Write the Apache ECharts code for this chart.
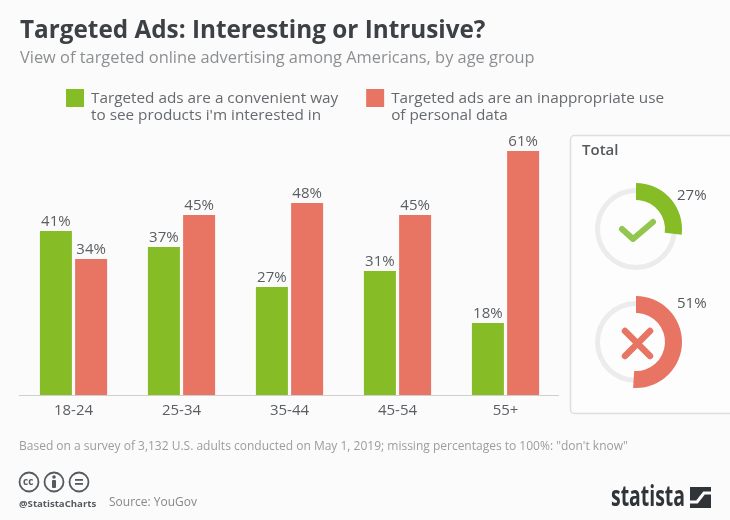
<!DOCTYPE html>
<html>
<head>
<meta charset="utf-8">
<style>
  html, body { margin: 0; padding: 0; background: #fbfbfb; }
  #chart { width: 730px; height: 520px; }
</style>
<script src="https://cdn.jsdelivr.net/npm/echarts@6/dist/echarts.min.js"></script>
</head>
<body>
<div id="chart"></div>
<script>
const ageGroups = ['18-24', '25-34', '35-44', '45-54', '55+'];
const convenient = [41, 37, 27, 31, 18];
const inappropriate = [34, 45, 48, 45, 61];
const totalConvenient = 27;
const totalInappropriate = 51;

const convenientName = "Targeted ads are a convenient way\nto see products i'm interested in";
const inappropriateName = 'Targeted ads are an inappropriate use\nof personal data';

const GREEN = '#86bc25';
const RED = '#e87563';
const FONT = '"Open Sans", sans-serif';

// gray track plus the coloured arc on top
function donut(value, color, cy) {
  return [
    {
      type: 'pie',
      silent: true,
      center: [636, cy],
      radius: [36, 41],
      label: { show: false },
      itemStyle: { color: '#ececec' },
      data: [100]
    },
    {
      type: 'pie',
      silent: true,
      center: [636, cy],
      radius: [29, 46],
      startAngle: 90,
      clockwise: true,
      label: { show: false },
      labelLine: { show: false },
      data: [
        { value: value, itemStyle: { color: color } },
        { value: 100 - value, itemStyle: { color: 'transparent' } }
      ]
    }
  ];
}

function text(x, y, str, size, color, weight, family) {
  return {
    type: 'text',
    x: x,
    y: y,
    silent: true,
    style: {
      text: str,
      fontSize: size,
      fontWeight: weight || 'normal',
      fontFamily: family || FONT,
      fill: color,
      textVerticalAlign: 'middle'
    }
  };
}

function ccCircle(cx) {
  return {
    type: 'circle',
    silent: true,
    shape: { cx: cx, cy: 482, r: 9.5 },
    style: { fill: 'none', stroke: '#555a5e', lineWidth: 1.8 }
  };
}

let chart = echarts.init(document.getElementById('chart'));

chart.setOption({
  backgroundColor: '#fbfbfb',
  animation: false,
  textStyle: { fontFamily: FONT },
  title: {
    text: 'Targeted Ads: Interesting or Intrusive?',
    subtext: 'View of targeted online advertising among Americans, by age group',
    left: 20,
    top: 19,
    itemGap: 7,
    padding: 0,
    textStyle: { fontSize: 24.3, fontWeight: 'bold', color: '#3d4145', fontFamily: FONT },
    subtextStyle: { fontSize: 16.4, color: '#8c8f92', fontFamily: FONT }
  },
  legend: {
    left: 66,
    top: 89,
    padding: 0,
    itemGap: 28,
    itemWidth: 18,
    itemHeight: 36,
    itemStyle: { borderWidth: 0 },
    selectedMode: false,
    icon: 'path://M0 0H18V18H0ZM0 36L0 36',
    textStyle: { fontSize: 15.3, lineHeight: 17, color: '#666a6e', fontFamily: FONT, padding: [0, 0, 0, 2] },
    data: [convenientName, inappropriateName]
  },
  grid: { left: 19.5, right: 170.5, top: 135, bottom: 125, containLabel: false },
  xAxis: {
    type: 'category',
    data: ageGroups,
    axisTick: { show: false },
    axisLine: { lineStyle: { color: '#c9c9c9', type: 'dotted', width: 1 } },
    axisLabel: { fontSize: 15, color: '#5a5e62', margin: 8, fontFamily: FONT }
  },
  yAxis: { type: 'value', min: 0, max: 65, show: false },
  series: [
    {
      name: convenientName,
      type: 'bar',
      data: convenient,
      barWidth: 32,
      barGap: '10%',
      itemStyle: { color: GREEN },
      label: { show: true, position: 'top', distance: 2, formatter: '{c}%', fontSize: 15, color: '#5a5e62', fontFamily: FONT }
    },
    {
      name: inappropriateName,
      type: 'bar',
      data: inappropriate,
      barWidth: 32,
      itemStyle: { color: RED },
      label: { show: true, position: 'top', distance: 2, formatter: '{c}%', fontSize: 15, color: '#5a5e62', fontFamily: FONT }
    }
  ].concat(donut(totalConvenient, GREEN, 229), donut(totalInappropriate, RED, 342)),
  graphic: {
    elements: [
      // Total panel
      {
        type: 'rect',
        silent: true,
        z: -10,
        shape: { x: 570.5, y: 135.5, width: 175, height: 278, r: 4 },
        style: { fill: '#fdfdfd', stroke: '#dedede', lineWidth: 1.5 }
      },
      text(582, 151, 'Total', 15, '#55595d', 600),
      text(677, 196, totalConvenient + '%', 15, '#55595d'),
      text(677, 304, totalInappropriate + '%', 15, '#55595d'),
      // check icon
      {
        type: 'polyline',
        silent: true,
        shape: { points: [[622, 229], [633, 239], [653, 222]] },
        style: { fill: 'none', stroke: '#92c64e', lineWidth: 6, lineCap: 'round', lineJoin: 'round' }
      },
      // cross icon
      {
        type: 'line',
        silent: true,
        shape: { x1: 625, y1: 331, x2: 650, y2: 356 },
        style: { stroke: RED, lineWidth: 6.5, lineCap: 'round' }
      },
      {
        type: 'line',
        silent: true,
        shape: { x1: 650, y1: 331, x2: 625, y2: 356 },
        style: { stroke: RED, lineWidth: 6.5, lineCap: 'round' }
      },
      // footer
      text(19, 447, 'Based on a survey of 3,132 U.S. adults conducted on May 1, 2019; missing percentages to 100%: "don\'t know"', 12, '#9a9da0'),
      ccCircle(29),
      ccCircle(54),
      ccCircle(79),
      text(23, 482, 'cc', 10, '#555a5e', 'bold'),
      {
        type: 'circle',
        silent: true,
        shape: { cx: 54, cy: 477, r: 1.8 },
        style: { fill: '#555a5e' }
      },
      {
        type: 'rect',
        silent: true,
        shape: { x: 52, y: 480, width: 4, height: 8, r: 1 },
        style: { fill: '#555a5e' }
      },
      {
        type: 'rect',
        silent: true,
        shape: { x: 75, y: 479, width: 8, height: 1.8 },
        style: { fill: '#555a5e' }
      },
      {
        type: 'rect',
        silent: true,
        shape: { x: 75, y: 483, width: 8, height: 1.8 },
        style: { fill: '#555a5e' }
      },
      text(19, 504, '@StatistaCharts', 9.6, '#55595d', 'bold'),
      text(109, 503, 'Source: YouGov', 12, '#85888b'),
      Object.assign(text(611, 498, 'statista', 29, '#2f3438', 'bold'), { scaleX: 0.67 }),
      // logo mark
      {
        type: 'rect',
        silent: true,
        shape: { x: 690, y: 487, width: 21, height: 21 },
        style: { fill: '#2f3438' }
      },
      {
        type: 'polyline',
        silent: true,
        shape: { points: [[688, 502], [697, 502], [704, 493], [713, 493]] },
        style: { fill: 'none', stroke: '#fbfbfb', lineWidth: 3 }
      }
    ]
  }
});
</script>
</body>
</html>
